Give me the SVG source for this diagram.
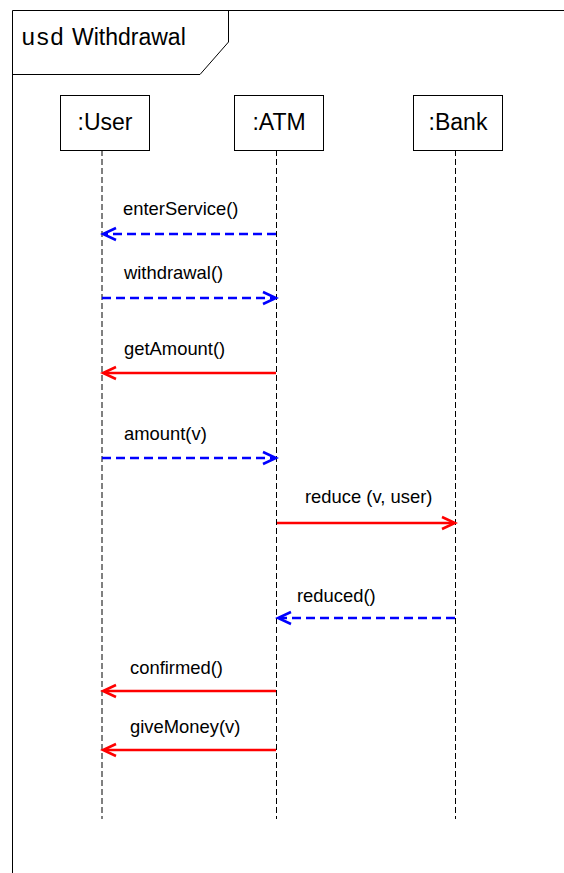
<svg xmlns="http://www.w3.org/2000/svg" width="564" height="873" viewBox="0 0 564 873">
  <style>
    .frame { fill: none; stroke: #000; stroke-width: 1; }
    .box { fill: #fff; stroke: #000; stroke-width: 1; }
    .life { stroke: #000; stroke-width: 1; stroke-dasharray: 6 3; }
    .title { font-family: "Liberation Sans", Arial, sans-serif; font-size: 23px; fill: #000; }
    .kw { font-family: "Liberation Mono", "Courier New", monospace; font-size: 24px; fill: #000; }
    .obj { font-family: "Liberation Sans", Arial, sans-serif; font-size: 23px; fill: #000; text-anchor: middle; }
    .lbl { font-family: "Liberation Sans", Arial, sans-serif; font-size: 18.4px; fill: #000; }
    .sync { stroke: #ff0000; stroke-width: 2.5; fill: none; }
    .reply { stroke: #0000ff; stroke-width: 2.5; fill: none; stroke-dasharray: 9 5; }
    .headR { stroke: #ff0000; stroke-width: 2.5; fill: none; }
    .headB { stroke: #0000ff; stroke-width: 2.5; fill: none; }
  </style>

  <!-- diagram frame with name tab -->
  <g id="frame">
    <path class="frame" d="M12.5,873 V10.5 H564"/>
    <path class="frame" d="M12.5,74.5 H200 L228.5,42 V10.5"/>
    <text class="kw" x="21" y="45">usd</text>
    <text class="title" x="72" y="45">Withdrawal</text>
  </g>

  <!-- lifelines -->
  <g id="user">
    <line class="life" x1="102" y1="150" x2="102" y2="819"/>
    <rect class="box" x="60.5" y="95.5" width="89" height="55"/>
    <text class="obj" x="105" y="130">:User</text>
  </g>
  <g id="atm">
    <line class="life" x1="276.5" y1="150" x2="276.5" y2="819"/>
    <rect class="box" x="234.5" y="95.5" width="89" height="55"/>
    <text class="obj" x="279" y="130">:ATM</text>
  </g>
  <g id="bank">
    <line class="life" x1="455.5" y1="150" x2="455.5" y2="819"/>
    <rect class="box" x="413.5" y="95.5" width="89" height="55"/>
    <text class="obj" x="458" y="130">:Bank</text>
  </g>

  <!-- messages -->
  <g id="connectors">
    <!-- enterService(): ATM -> User, reply -->
    <line class="reply" x1="276" y1="234" x2="104" y2="234"/>
    <path class="headB" d="M116,228 L103,234 L116,240"/>
    <text class="lbl" x="123" y="215">enterService()</text>

    <!-- withdrawal(): User -> ATM, reply -->
    <line class="reply" x1="102" y1="298" x2="274" y2="298"/>
    <path class="headB" d="M263,292 L276,298 L263,304"/>
    <text class="lbl" x="124" y="279">withdrawal()</text>

    <!-- getAmount(): ATM -> User, call -->
    <line class="sync" x1="276" y1="373" x2="104" y2="373"/>
    <path class="headR" d="M116,367 L103,373 L116,379"/>
    <text class="lbl" x="124" y="355">getAmount()</text>

    <!-- amount(v): User -> ATM, reply -->
    <line class="reply" x1="102" y1="458" x2="274" y2="458"/>
    <path class="headB" d="M263,452 L276,458 L263,464"/>
    <text class="lbl" x="124" y="440">amount(v)</text>

    <!-- reduce (v, user): ATM -> Bank, call -->
    <line class="sync" x1="277" y1="523" x2="453" y2="523"/>
    <path class="headR" d="M442,517 L455,523 L442,529"/>
    <text class="lbl" x="305" y="503">reduce (v, user)</text>

    <!-- reduced(): Bank -> ATM, reply -->
    <line class="reply" x1="455" y1="618" x2="279" y2="618"/>
    <path class="headB" d="M291,612 L278,618 L291,624"/>
    <text class="lbl" x="297" y="602">reduced()</text>

    <!-- confirmed(): ATM -> User, call -->
    <line class="sync" x1="276" y1="691" x2="104" y2="691"/>
    <path class="headR" d="M116,685 L103,691 L116,697"/>
    <text class="lbl" x="130" y="674">confirmed()</text>

    <!-- giveMoney(v): ATM -> User, call -->
    <line class="sync" x1="276" y1="750" x2="104" y2="750"/>
    <path class="headR" d="M116,744 L103,750 L116,756"/>
    <text class="lbl" x="130" y="733">giveMoney(v)</text>
  </g>
</svg>
